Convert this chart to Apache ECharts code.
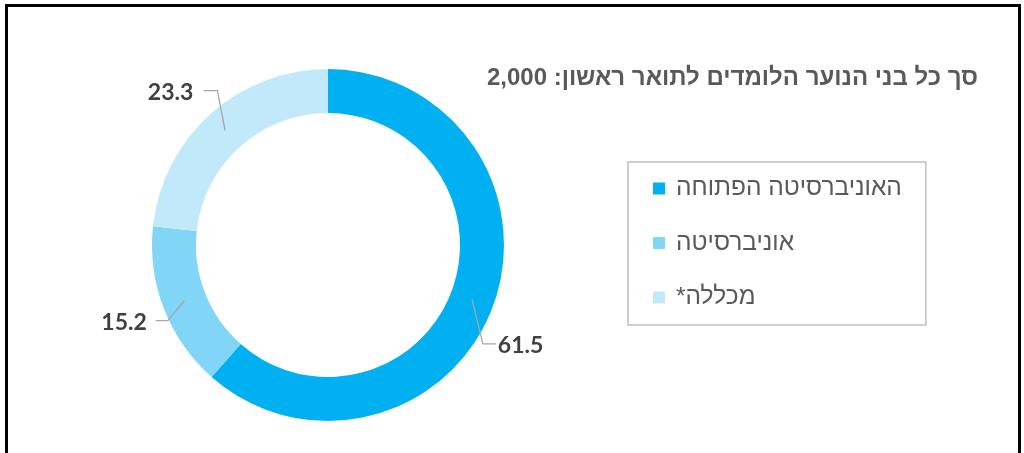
<!DOCTYPE html>
<html>
<head>
<meta charset="utf-8">
<script src="https://cdn.jsdelivr.net/npm/echarts@6/dist/echarts.min.js"></script>
<style>
html,body{margin:0;padding:0;background:#fff;}
#chart{width:1024px;height:453px;}
</style>
</head>
<body>
<div id="chart"></div>
<script>
const titleText = 'סך כל בני הנוער הלומדים לתואר ראשון: 2,000';
const categories = ['האוניברסיטה הפתוחה', 'אוניברסיטה', 'מכללה*\u200F'];
const values = [61.5, 15.2, 23.3];
const colors = ['#00B0F0', '#81D6F7', '#C1E9FA'];
// label offsets (style) relative to the library's default outside placement
const labelShift = [[-21, 34], [9, 9], [6, -13]];
const labelGap = [2, 9, 10];
const leaderLen2 = [13, 12, 14];

const RING_IN = 132, RING_OUT = 176;
const CENTER = [328, 245];
const chart = echarts.init(document.getElementById('chart'), null, {renderer: 'canvas'});
const pieData = categories.map((c, i) => ({name: c, value: values[i]}));
const option = {
  animation: false,
  backgroundColor: '#ffffff',
  color: colors,
  title: {
    text: titleText,
    right: 46,
    top: 65,
    padding: 0,
    textStyle: {fontFamily: 'Liberation Sans', fontWeight: 'bold', fontSize: 24, color: '#595959', lineHeight: 26}
  },
  legend: {
    orient: 'vertical',
    left: 628,
    top: 162,
    itemWidth: 12,
    itemHeight: 12,
    itemGap: 29.5,
    icon: 'rect',
    borderColor: '#BFBFBF',
    borderWidth: 1.5,
    padding: [14, 24, 15, 25],
    textStyle: {fontFamily: 'Liberation Sans', fontSize: 24.5, color: '#595959', lineHeight: 24, padding: [0, 0, 0, 6]},
    data: categories
  },
  graphic: [{
    type: 'rect',
    shape: {x: 6.5, y: 5.5, width: 1013, height: 520},
    style: {fill: 'none', stroke: '#000', lineWidth: 3},
    silent: true,
    z: 100
  }],
  series: [{
    type: 'pie',
    z: 2,
    center: CENTER,
    radius: [RING_IN, RING_OUT],
    startAngle: 90,
    clockwise: true,
    color: colors,
    label: {show: false},
    labelLine: {show: false},
    emphasis: {disabled: true},
    data: pieData
  }, {
    // same ring, transparent, drawn above to carry the data labels and leader lines
    type: 'pie',
    z: 3,
    silent: true,
    center: CENTER,
    radius: [RING_IN, RING_OUT],
    startAngle: 90,
    clockwise: true,
    avoidLabelOverlap: false,
    itemStyle: {color: 'rgba(0,0,0,0)'},
    label: {
      show: true,
      position: 'outside',
      formatter: p => p.value.toFixed(1),
      fontFamily: 'Lato',
      fontWeight: 'bold',
      fontSize: 23,
      color: '#404040',
      opacity: 1
    },
    labelLine: {show: true, showAbove: true, length: 12, length2: 10, lineStyle: {color: '#A6A6A6', width: 1.3, opacity: 1}},
    labelLayout: function (params) {
      const i = params.dataIndex;
      const pts = params.labelLinePoints;
      const r = params.labelRect;
      if (!pts || !r) return {};
      const [dx, dy] = labelShift[i];
      const vx = pts[1][0] - pts[0][0], vy = pts[1][1] - pts[0][1];
      const vl = Math.hypot(vx, vy) || 1;
      const inset = (RING_OUT - RING_IN) / 2;
      const start = [pts[0][0] - vx / vl * inset, pts[0][1] - vy / vl * inset];
      const rightSide = pts[2][0] > pts[0][0];
      const cy = r.y + dy + r.height / 2 - 1.5;
      let end, bend;
      if (rightSide) {
        end = [r.x + dx - labelGap[i], cy];
        bend = [end[0] - leaderLen2[i], cy];
      } else {
        end = [r.x + dx + r.width + labelGap[i], cy];
        bend = [end[0] + leaderLen2[i], cy];
      }
      return {dx: dx, dy: dy, labelLinePoints: [start, bend, end]};
    },
    emphasis: {disabled: true},
    data: pieData
  }]
};
chart.setOption(option);
</script>
</body>
</html>
